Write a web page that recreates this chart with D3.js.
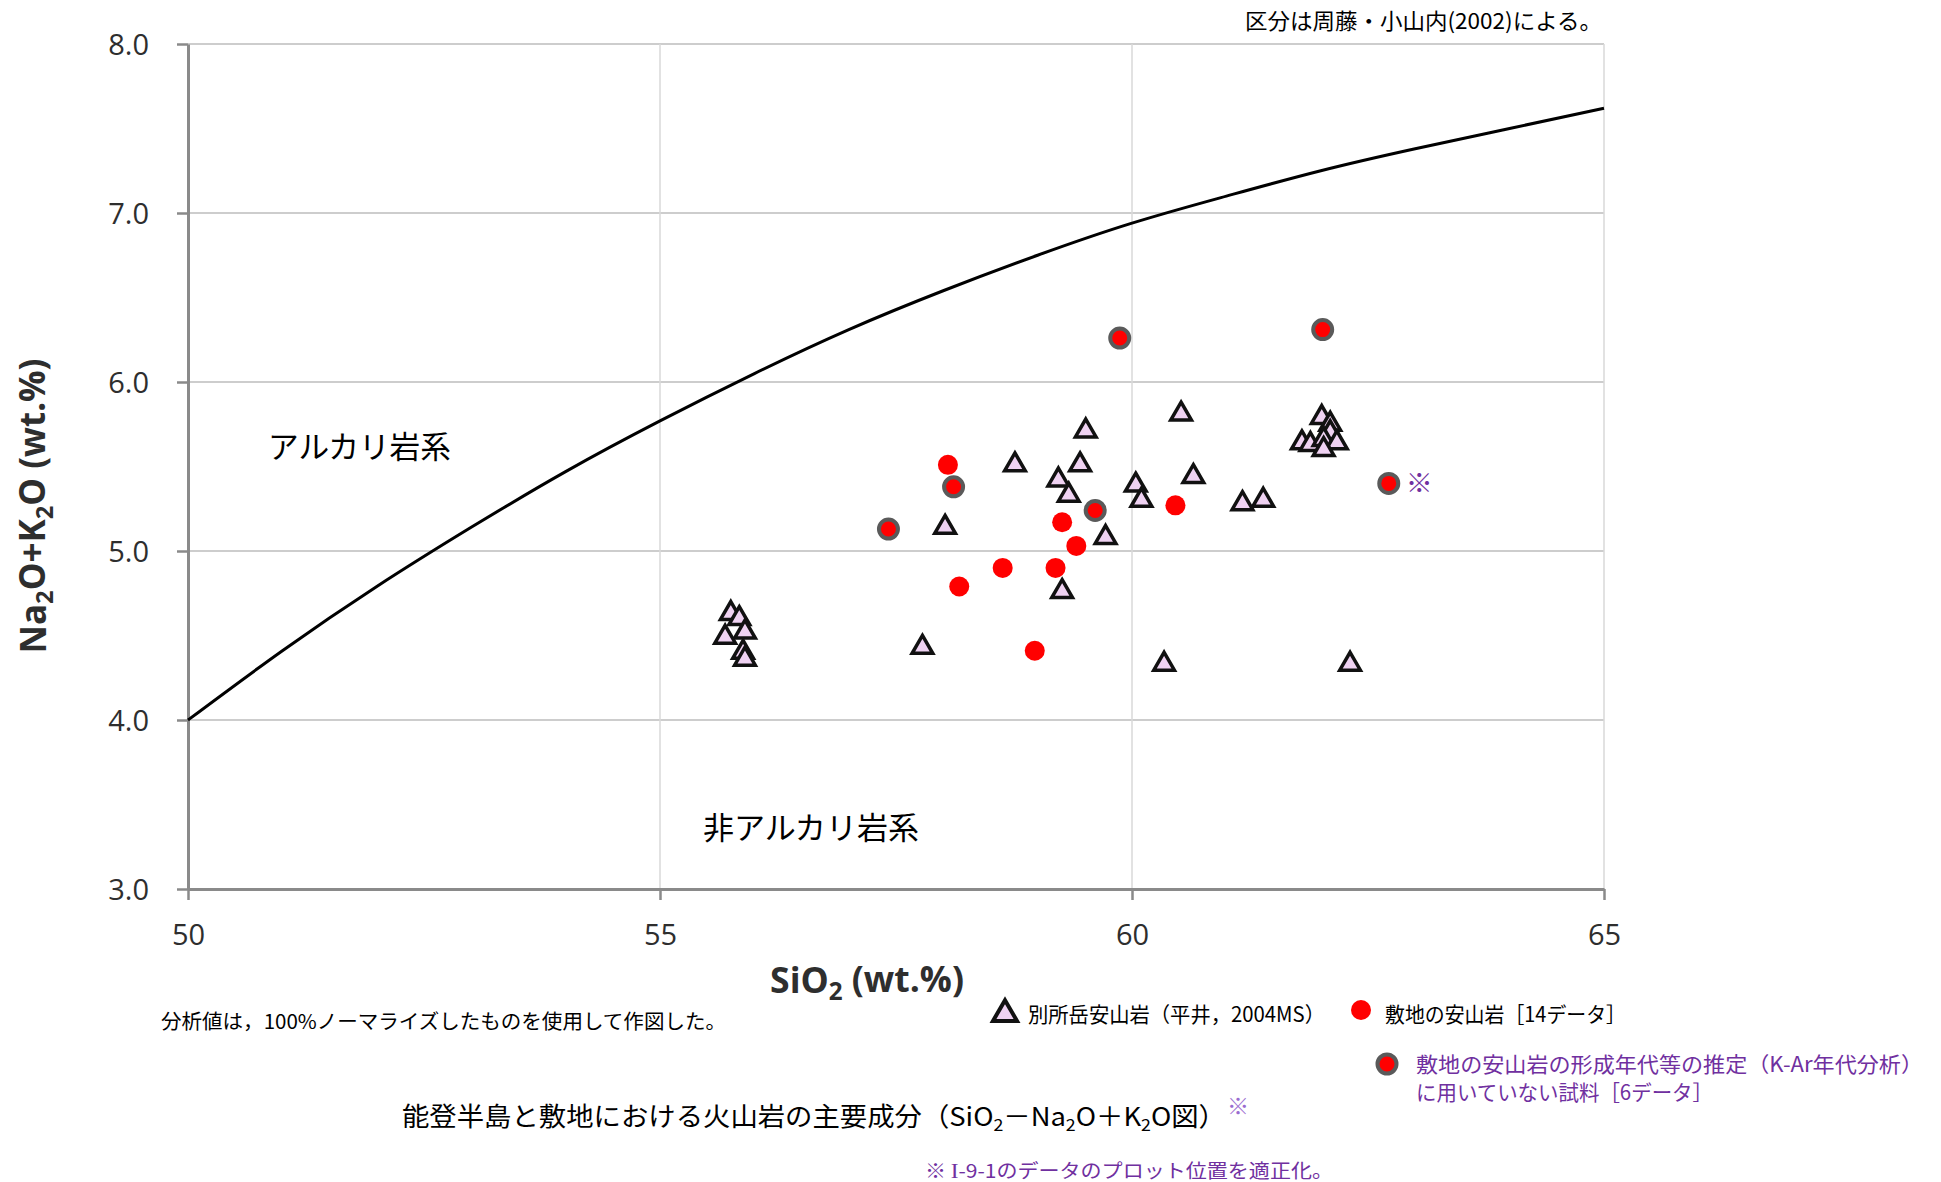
<!DOCTYPE html>
<html><head><meta charset="utf-8">
<script src="https://cdn.jsdelivr.net/npm/d3@7"></script>
<style>body{margin:0;background:#fff} svg{display:block}</style>
</head><body>
<svg id="c" width="1941" height="1182"></svg>
<script>
// ---- data ----
const xDomain = [50, 65];
const yDomain = [3, 8];
const xTicks = [50, 55, 60, 65];
const xTickLabels = ["50", "55", "60", "65"];
const yTicks = [3, 4, 5, 6, 7, 8];
const yTickLabels = ["3.0", "4.0", "5.0", "6.0", "7.0", "8.0"];

// alkali / non-alkali boundary (周藤・小山内, 2002)
const boundarySiO2 = [50, 51, 52, 53, 54, 55, 56, 57, 58, 59, 60, 61, 62, 63, 64, 65];
const boundaryAlk  = [4.00, 4.41, 4.79, 5.14, 5.47, 5.77, 6.05, 6.31, 6.54, 6.75, 6.94, 7.10, 7.25, 7.38, 7.50, 7.62];

// 別所岳安山岩（平井，2004MS）
const besshoSiO2 = [55.75, 55.84, 55.90, 55.69, 55.88, 55.90, 57.78, 58.02, 58.76, 59.51, 59.45, 59.22, 59.33, 59.72, 59.26, 60.04, 60.10, 60.52, 60.65, 61.17, 61.39, 60.34, 62.31, 62.01, 62.10, 62.10, 61.80, 61.89, 62.03, 62.17, 62.03];
const besshoAlk  = [4.63, 4.60, 4.52, 4.49, 4.40, 4.36, 4.43, 5.14, 5.51, 5.71, 5.51, 5.42, 5.33, 5.08, 4.76, 5.39, 5.30, 5.81, 5.44, 5.28, 5.30, 4.33, 4.33, 5.79, 5.75, 5.70, 5.64, 5.63, 5.66, 5.64, 5.60];

// 敷地の安山岩（K-Ar年代分析に用いた試料）
const siteSiO2 = [58.05, 59.26, 59.41, 60.46, 58.63, 59.19, 58.17, 58.97];
const siteAlk  = [5.51, 5.17, 5.03, 5.27, 4.90, 4.90, 4.79, 4.41];

// 敷地の安山岩（K-Ar年代分析に用いていない試料）
const unusedSiO2 = [59.87, 62.02, 62.72, 58.11, 57.42, 59.61];
const unusedAlk  = [6.26, 6.31, 5.40, 5.38, 5.13, 5.24];
const correctedIndex = 2; // ※ 位置を適正化したデータ

// ---- drawing ----
const svg = d3.select("#c");
const W = 1941, H = 1182;
const m = {left: 188, right: 1604, top: 44, bottom: 889};
const x = d3.scaleLinear().domain(xDomain).range([m.left, m.right]);
const y = d3.scaleLinear().domain(yDomain).range([m.bottom, m.top]);

const PURPLE = "#7030a0";
const JP = "'Noto Sans CJK JP', sans-serif";
const LAT = "'Open Sans', 'Noto Sans', sans-serif";

svg.append("rect").attr("width", W).attr("height", H).attr("fill", "#fff");

// gridlines
const grid = svg.append("g");
grid.selectAll("line.h").data(yTicks.filter(d => d > yDomain[0])).join("line")
  .attr("x1", m.left).attr("x2", m.right)
  .attr("y1", d => y(d)).attr("y2", d => y(d))
  .attr("stroke", "#cdcdcd").attr("stroke-width", 2);
grid.selectAll("line.v").data(xTicks.filter(d => d > xDomain[0])).join("line")
  .attr("y1", m.top).attr("y2", m.bottom)
  .attr("x1", d => x(d)).attr("x2", d => x(d))
  .attr("stroke", "#d8d8d8").attr("stroke-width", 1.5);

// axes
const axL = svg.append("g").attr("transform", `translate(${m.left},0)`)
  .call(d3.axisLeft(y).tickValues(yTicks).tickFormat((d, i) => yTickLabels[i]).tickSize(11).tickSizeOuter(0));
const axB = svg.append("g").attr("transform", `translate(0,${m.bottom})`)
  .call(d3.axisBottom(x).tickValues(xTicks).tickFormat((d, i) => xTickLabels[i]).tickSize(11).tickSizeOuter(0));
[axL, axB].forEach(a => {
  a.select(".domain").attr("stroke", "#8a8a8a").attr("stroke-width", 3);
  a.selectAll(".tick line").attr("stroke", "#8a8a8a").attr("stroke-width", 2.5);
  a.selectAll(".tick text").attr("font-family", LAT).attr("font-size", 29).attr("fill", "#2e2e2e");
});
axL.selectAll(".tick text").attr("x", -39).attr("dy", "0.36em");
axB.selectAll(".tick text").attr("y", 56).attr("dy", 0);

// axis titles
function fitFont(t, target, base) {
  const w = t.node().getComputedTextLength();
  t.attr("font-size", base * target / w);
}
const xt = svg.append("text").attr("x", 867).attr("y", 993).attr("text-anchor", "middle")
  .attr("font-family", LAT).attr("font-weight", "bold").attr("font-size", 32).attr("fill", "#2e2e2e");
xt.append("tspan").text("SiO");
xt.append("tspan").attr("font-size", "68%").attr("dy", "0.3em").text("2");
xt.append("tspan").attr("dy", "-0.22em").text(" (wt.%)");
fitFont(xt, 194, 32);

const yt = svg.append("text").attr("transform", "translate(46,506) rotate(-90)").attr("text-anchor", "middle")
  .attr("font-family", LAT).attr("font-weight", "bold").attr("font-size", 34).attr("fill", "#2e2e2e");
yt.append("tspan").text("Na");
yt.append("tspan").attr("font-size", "68%").attr("dy", "0.3em").text("2");
yt.append("tspan").attr("dy", "-0.22em").text("O+K");
yt.append("tspan").attr("font-size", "68%").attr("dy", "0.3em").text("2");
yt.append("tspan").attr("dy", "-0.22em").text("O (wt.%)");
fitFont(yt, 295, 34);

// boundary curve
const line = d3.line().x(d => x(d[0])).y(d => y(d[1])).curve(d3.curveNatural);
svg.append("path").datum(d3.zip(boundarySiO2, boundaryAlk)).attr("d", line)
  .attr("fill", "none").attr("stroke", "#000").attr("stroke-width", 3);

// region labels
function jpText(xp, yp, str, size, len, color) {
  return svg.append("text").attr("x", xp).attr("y", yp).attr("font-family", JP)
    .attr("font-size", size).attr("fill", color || "#000")
    .attr("textLength", len).attr("lengthAdjust", "spacingAndGlyphs").text(str);
}
jpText(268, 458, "アルカリ岩系", 31, 183);
jpText(703, 839, "非アルカリ岩系", 31, 216);

// markers
const tri = d3.symbol(d3.symbolTriangle, 185);
const triBig = d3.symbol(d3.symbolTriangle, 250);
svg.append("g").selectAll("circle").data(d3.zip(siteSiO2, siteAlk)).join("circle")
  .attr("cx", d => x(d[0])).attr("cy", d => y(d[1])).attr("r", 10).attr("fill", "#ff0000");
svg.append("g").selectAll("circle").data(d3.zip(unusedSiO2, unusedAlk)).join("circle")
  .attr("cx", d => x(d[0])).attr("cy", d => y(d[1])).attr("r", 9.5)
  .attr("fill", "#ff0000").attr("stroke", "#5a5a5a").attr("stroke-width", 4);
svg.append("g").selectAll("path").data(d3.zip(besshoSiO2, besshoAlk)).join("path")
  .attr("d", tri).attr("transform", d => `translate(${x(d[0])},${y(d[1])})`)
  .attr("fill", "#efd2f2").attr("stroke", "#111").attr("stroke-width", 3.5).attr("stroke-linejoin", "miter");

// ※ next to corrected point
svg.append("text").attr("x", x(unusedSiO2[correctedIndex]) + 17).attr("y", y(unusedAlk[correctedIndex]) + 10)
  .attr("font-family", JP).attr("font-size", 27).attr("fill", PURPLE).text("※");

// top-right note
jpText(1245, 29, "区分は周藤・小山内(2002)による。", 22, 357);
// bottom-left note
jpText(161, 1029, "分析値は，100%ノーマライズしたものを使用して作図した。", 20, 565);

// legend
svg.append("path").attr("d", triBig).attr("transform", "translate(1005,1014)")
  .attr("fill", "#efd2f2").attr("stroke", "#111").attr("stroke-width", 4);
jpText(1028, 1022, "別所岳安山岩（平井，2004MS）", 21, 297);
svg.append("circle").attr("cx", 1361).attr("cy", 1010).attr("r", 10).attr("fill", "#ff0000");
jpText(1385, 1022, "敷地の安山岩［14データ］", 21, 241);
svg.append("circle").attr("cx", 1387).attr("cy", 1064).attr("r", 9.5)
  .attr("fill", "#ff0000").attr("stroke", "#5a5a5a").attr("stroke-width", 4);
jpText(1416, 1072, "敷地の安山岩の形成年代等の推定（K-Ar年代分析）", 21, 507, PURPLE);
jpText(1416, 1100, "に用いていない試料［6データ］", 21, 297, PURPLE);

// title
const tt = svg.append("text").attr("x", 402).attr("y", 1126).attr("font-family", JP)
  .attr("font-size", 26).attr("fill", "#000");
tt.append("tspan").text("能登半島と敷地における火山岩の主要成分（SiO");
tt.append("tspan").attr("font-size", "65%").attr("dy", "0.3em").text("2");
tt.append("tspan").attr("dy", "-0.2em").text("－Na");
tt.append("tspan").attr("font-size", "65%").attr("dy", "0.3em").text("2");
tt.append("tspan").attr("dy", "-0.2em").text("O＋K");
tt.append("tspan").attr("font-size", "65%").attr("dy", "0.3em").text("2");
tt.append("tspan").attr("dy", "-0.2em").text("O図）");
tt.attr("textLength", 824).attr("lengthAdjust", "spacingAndGlyphs");
svg.append("text").attr("x", 1227).attr("y", 1114).attr("font-family", JP)
  .attr("font-size", 22).attr("fill", "#9a6cd0").text("※");

// footnote
const fn = svg.append("text").attr("x", 925).attr("y", 1178).attr("font-family", JP)
  .attr("font-size", 19).attr("fill", PURPLE);
fn.append("tspan").text("※ ");
fn.append("tspan").attr("font-family", "'Liberation Serif', serif").attr("font-size", 21).text("I");
fn.append("tspan").text("-9-1のデータのプロット位置を適正化。");
fn.attr("textLength", 408).attr("lengthAdjust", "spacingAndGlyphs");
</script>
</body></html>
